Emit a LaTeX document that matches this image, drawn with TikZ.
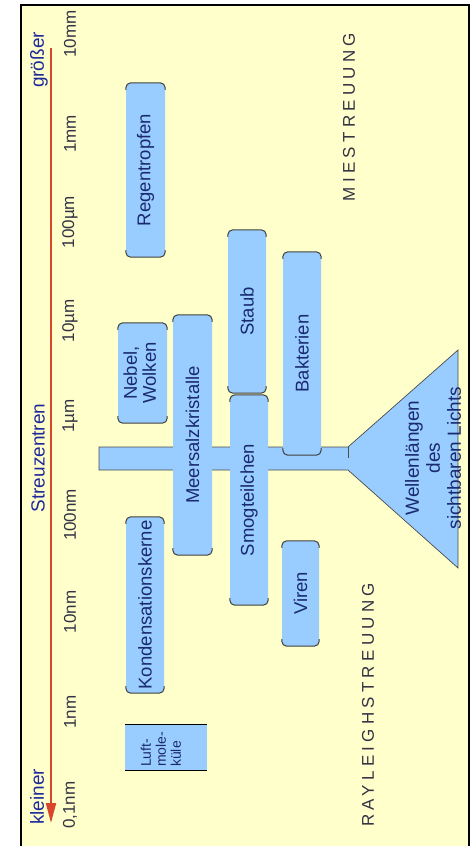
\documentclass[tikz,border=0pt]{standalone}
\usepackage{graphicx}
\usepackage{fontspec}
\setmainfont{Liberation Sans}
\newfontfamily\spacedfont[LetterSpace=25]{Liberation Sans}
\usetikzlibrary{arrows.meta}
\definecolor{bgyellow}{HTML}{FFFFCC}
\definecolor{boxblue}{HTML}{99CCFF}
\definecolor{boxtext}{HTML}{1A2A70}
\definecolor{sidetext}{HTML}{1E2A9A}
\definecolor{ticktext}{HTML}{333344}
\definecolor{axisred}{HTML}{D9472B}
\newcommand{\myvert}[1]{\rotatebox{90}{#1}}
\begin{document}
\begin{tikzpicture}[x=1pt,y=-1pt,
  box/.style={fill=boxblue, rounded corners=5pt, inner sep=0pt, text=boxtext,
    font=\fontsize{18.5}{19}\selectfont},
  lbox/.style={fill=boxblue, inner sep=0pt},
  capline/.style={draw=black!75, line width=1pt, rounded corners=5pt},
  tick/.style={rotate=90, text=ticktext, font=\fontsize{17}{19}\selectfont, inner sep=0pt},
  side/.style={rotate=90, text=sidetext, font=\fontsize{19}{21}\selectfont, inner sep=0pt},
  regime/.style={rotate=90, text=ticktext, font=\spacedfont\fontsize{17}{19}\selectfont, inner sep=0pt},
  funnel/.style={fill=boxblue, draw=black!70, line width=0.7pt}]
\useasboundingbox (0,0) rectangle (475,846);
\fill[white] (0,0) rectangle (475,846);
\fill[bgyellow] (21,5) rectangle (469,846);
\draw[black, line width=2pt] (21,846) -- (21,5) -- (469,5) -- (469,846);

% axis
\coordinate (axtop) at (51,48);
\coordinate (axbot) at (51,823);
\draw[axisred, line width=2pt, -{Triangle[length=20pt,width=10pt]}] (axtop) -- (axbot);

\node[side] (gross) at (39,60) {größer};
\node[side] (streu) at (38,458) {Streuzentren};
\node[side] (klein) at (37,797) {kleiner};

\node[tick] (t1) at (70,34) {10mm};
\node[tick] (t2) at (70,134) {1mm};
\node[tick] (t3) at (70,222) {100µm};
\node[tick] (t4) at (70,321) {10µm};
\node[tick] (t5) at (70,416) {1µm};
\node[tick] (t6) at (70,515) {100nm};
\node[tick] (t7) at (70,612) {10nm};
\node[tick] (t8) at (70,712) {1nm};
\node[tick] (t9) at (70,805) {0,1nm};

% visible light bar and funnel (behind the boxes)
\path[funnel] (99,447) -- (348,447) -- (458,350) -- (458,568) -- (348,470) -- (99,470) -- cycle;
\draw[black!70, line width=0.7pt] (348,447) -- (348,458);
\node[rotate=90, align=center, text=boxtext, font=\fontsize{19}{21}\selectfont, inner sep=0pt] (wl) at (433,458)
  {Wellenlängen\\des\\sichtbaren Lichts};

% particle boxes
\node[box, minimum width=39pt, minimum height=174pt] (reg) at (145.5,170) {\myvert{Regentropfen}};
\node[box, minimum width=49pt, minimum height=100pt] (neb) at (142.5,373)
  {\myvert{\begin{tabular}{@{}c@{}}Nebel,\\Wolken\end{tabular}}};
\node[box, minimum width=39pt, minimum height=240pt] (mee) at (192.5,435) {\myvert{Meersalzkristalle}};
\node[box, minimum width=38pt, minimum height=163pt] (sta) at (247,311.5) {\myvert{Staub}};
\node[box, minimum width=38pt, minimum height=210pt] (smo) at (249,500) {\myvert{Smogteilchen}};
\node[box, minimum width=38pt, minimum height=203pt] (bak) at (302,353.5) {\myvert{Bakterien}};
\node[box, minimum width=37pt, minimum height=105pt] (vir) at (300.5,593.5) {\myvert{Viren}};
\node[box, minimum width=38pt, minimum height=176pt] (kon) at (145,605) {\myvert{Kondensationskerne}};

\foreach \n in {reg,neb,mee,sta,smo,bak,vir,kon} {
  \draw[capline] ([yshift=-7pt]\n.north west) -- (\n.north west) -- (\n.north east) -- ([yshift=-7pt]\n.north east);
  \draw[capline] ([yshift=7pt]\n.south west) -- (\n.south west) -- (\n.south east) -- ([yshift=7pt]\n.south east);
}

\node[lbox, minimum width=82pt, minimum height=45pt] (luft) at (166,747.5) {};
\node[rotate=90, anchor=west, align=left, inner sep=0pt, text=boxtext,
  font=\fontsize{14}{15}\selectfont] (lufttext) at (161,767) {Luft-\\mole-\\küle};
\draw[black, line width=1pt] (luft.north west) -- (luft.north east);
\draw[black, line width=1pt] (luft.south west) -- (luft.south east);

% regimes
\node[regime] (mie) at (349,117) {MIESTREUUNG};
\node[regime] (ray) at (368,705) {RAYLEIGHSTREUUNG};
\end{tikzpicture}
\end{document}
